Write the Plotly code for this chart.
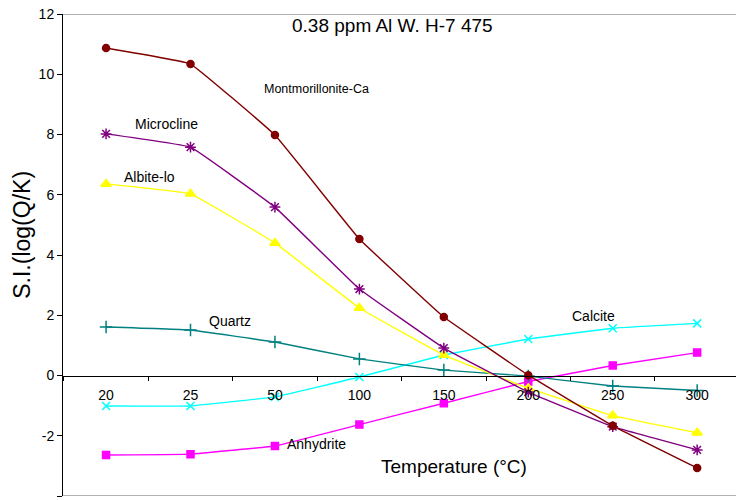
import plotly.graph_objects as go

# Temperatures (°C) used as category labels on the x axis
temperatures = ["20", "25", "50", "100", "150", "200", "250", "300"]

# Saturation indices, log(Q/K), per mineral
montmorillonite_ca = [10.87, 10.34, 7.98, 4.53, 1.94, 0.01, -1.67, -3.07]
microcline = [8.02, 7.58, 5.59, 2.87, 0.91, -0.55, -1.70, -2.47]
albite_lo = [6.36, 6.03, 4.40, 2.24, 0.68, -0.42, -1.33, -1.90]
quartz = [1.61, 1.51, 1.11, 0.55, 0.18, -0.02, -0.35, -0.50]
calcite = [-1.01, -1.01, -0.71, -0.05, 0.68, 1.21, 1.57, 1.73]
anhydrite = [-2.64, -2.61, -2.34, -1.63, -0.92, -0.20, 0.33, 0.76]

# y-axis ticks with plain hyphen minus signs
y_tickvals = [-4, -2, 0, 2, 4, 6, 8, 10, 12]
y_ticktext = ["-4", "-2", "0", "2", "4", "6", "8", "10", "12"]

FONT = "Liberation Sans, Arial, sans-serif"

series = [
    ("Anhydrite", anhydrite, "#FF00FF", "square", 7),
    ("Calcite", calcite, "#00FFFF", "x-thin-open", 8),
    ("Quartz", quartz, "#008080", "cross-thin-open", 9),
    ("Albite-lo", albite_lo, "#FFFF00", "triangle-up", 9),
    ("Microcline", microcline, "#800080", "asterisk-open", 9),
    ("Montmorillonite-Ca", montmorillonite_ca, "#800000", "circle", 7),
]

fig = go.Figure()
for name, vals, color, symbol, size in series:
    fig.add_trace(go.Scatter(
        x=temperatures, y=vals, name=name, mode="lines+markers",
        line=dict(color=color, width=1.4, shape="spline", smoothing=0.2),
        marker=dict(color=color, symbol=symbol, size=size,
                    line=dict(color=color, width=1.5)),
        cliponaxis=False,
    ))

# Series labels placed next to their curves (x given as category index)
labels = [
    ("Montmorillonite-Ca", 3, 9.5, 12.5, -43),
    ("Microcline", 1, 8.35, 14, -24),
    ("Albite-lo", 0, 6.6, 14, 43),
    ("Quartz", 2, 1.8, 14, -45),
    ("Calcite", 6, 1.97, 14, -19),
    ("Anhydrite", 2, -2.27, 14, 42),
]
for text, xi, yv, size, xs in labels:
    fig.add_annotation(x=xi, y=yv, text=text, showarrow=False, xshift=xs,
                       font=dict(family=FONT, size=size, color="#000000"))

fig.add_annotation(x=0.49, xref="paper", xanchor="center", y=12, yref="y",
                   yshift=-11, text="0.38 ppm Al W. H-7 475", showarrow=False,
                   font=dict(family=FONT, size=19, color="#000000"))
fig.add_annotation(x=0.581, xref="paper", xanchor="center", y=-3.03, yref="y",
                   text="Temperature (°C)", showarrow=False,
                   font=dict(family=FONT, size=19, color="#000000"))
fig.add_annotation(x=-0.061, xref="paper", xanchor="center", y=4.67, yref="y",
                   yanchor="middle", text="S.I.(log(Q/K)", showarrow=False,
                   textangle=-90,
                   font=dict(family=FONT, size=23, color="#000000"))

# Grey plot-area border lines at top and bottom
for yv in (12, -4):
    fig.add_shape(type="line", xref="paper", x0=0, x1=1, yref="y", y0=yv, y1=yv,
                  line=dict(color="#999999", width=1.5))

fig.update_layout(
    width=736, height=500,
    margin=dict(l=63, r=0, t=14, b=4),
    paper_bgcolor="white", plot_bgcolor="white",
    showlegend=False,
    font=dict(family=FONT, size=13, color="#000000"),
    xaxis=dict(
        type="category", range=[-0.51, 7.46],
        anchor="free", position=0.25,
        showline=True, linecolor="#000000", linewidth=1,
        ticks="outside", ticklen=4, tickcolor="#000000", tickson="boundaries",
        ticklabelstandoff=7,
        showgrid=False, zeroline=False,
        tickfont=dict(family=FONT, size=14, color="#000000"),
    ),
    yaxis=dict(
        range=[-4, 12], tickvals=y_tickvals, ticktext=y_ticktext,
        showline=True, linecolor="#000000", linewidth=1,
        ticks="outside", ticklen=5, tickcolor="#000000",
        showgrid=False, zeroline=False,
        tickfont=dict(family=FONT, size=14, color="#000000"),
    ),
)

fig.write_html("out.html")
